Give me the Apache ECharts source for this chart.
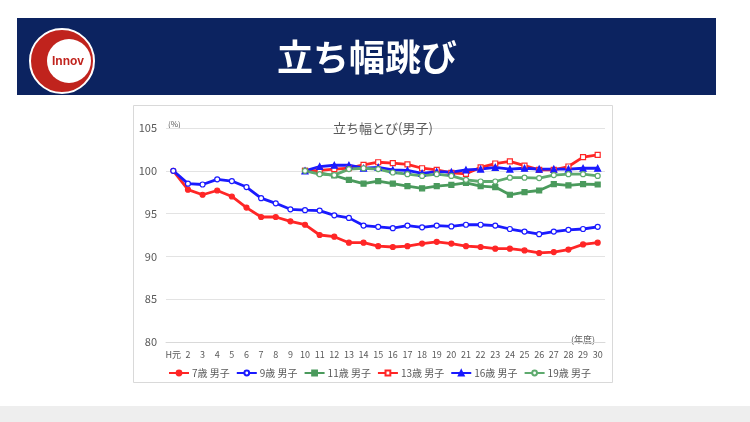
<!DOCTYPE html>
<html>
<head>
<meta charset="utf-8">
<script src="https://cdn.jsdelivr.net/npm/echarts@6/dist/echarts.min.js"></script>
<style>
html,body{margin:0;padding:0;background:#fff;}
#c{width:750px;height:422px;}
</style>
</head>
<body>
<div id="c"></div>
<script>
var categories = ['H元','2','3','4','5','6','7','8','9','10','11','12','13','14','15','16','17','18','19','20','21','22','23','24','25','26','27','28','29','30'];
var yTicks = [80, 85, 90, 95, 100, 105];
// 7歳・9歳: H元〜30
var age7 = [100, 97.8, 97.2, 97.7, 97.0, 95.7, 94.6, 94.6, 94.1, 93.7, 92.5, 92.3, 91.6, 91.6, 91.2, 91.1, 91.2, 91.5, 91.7, 91.5, 91.2, 91.1, 90.9, 90.9, 90.7, 90.4, 90.5, 90.8, 91.4, 91.6];
var age9 = [100, 98.5, 98.4, 99.0, 98.8, 98.1, 96.8, 96.2, 95.5, 95.4, 95.35, 94.8, 94.5, 93.6, 93.45, 93.3, 93.6, 93.4, 93.6, 93.5, 93.7, 93.7, 93.6, 93.2, 92.9, 92.6, 92.9, 93.1, 93.2, 93.45];
// 11歳・13歳・16歳・19歳: 10〜30
var age11 = [100, 99.75, 99.45, 98.95, 98.5, 98.8, 98.5, 98.2, 97.95, 98.2, 98.35, 98.6, 98.2, 98.1, 97.2, 97.5, 97.7, 98.45, 98.3, 98.45, 98.4];
var age13 = [100, 100.05, 100.2, 100.3, 100.7, 101.0, 100.9, 100.75, 100.3, 100.1, 99.75, 99.65, 100.4, 100.85, 101.1, 100.6, 100.1, 100.1, 100.5, 101.6, 101.85];
var age16 = [100, 100.5, 100.65, 100.65, 100.3, 100.4, 100.1, 100.05, 99.7, 99.9, 99.85, 100.1, 100.2, 100.4, 100.2, 100.3, 100.2, 100.2, 100.2, 100.3, 100.3];
var age19 = [100, 99.6, 99.5, 100.2, 100.3, 100.2, 99.8, 99.6, 99.4, 99.6, 99.4, 98.95, 98.75, 98.75, 99.2, 99.2, 99.15, 99.5, 99.6, 99.6, 99.4];

function pad(arr){
  var out = [];
  for (var i = 0; i < categories.length - arr.length; i++) out.push(null);
  return out.concat(arr);
}

var FONT = '"Noto Sans CJK JP", "Noto Sans", sans-serif';
var RED = '#ff2626', BLUE = '#1a1aff', GREEN1 = '#4a9a5c', GREEN2 = '#5eaa6e';

function mk(name, data, color, symbol, filled){
  return {
    name: name, type: 'line', data: data,
    symbol: symbol, symbolSize: symbol === 'triangle' ? 6 : 5,
    showSymbol: true, connectNulls: false,
    lineStyle: {color: color, width: 2.8},
    itemStyle: {color: filled ? color : '#ffffff', borderColor: color, borderWidth: 1.2},
    emphasis: {disabled: true},
    z: 3
  };
}

var chart = echarts.init(document.getElementById('c'), null, {renderer: 'canvas'});
chart.setOption({
  animation: false,
  backgroundColor: '#ffffff',
  textStyle: {fontFamily: FONT},
  graphic: [
    {type: 'rect', shape: {x: 0, y: 406, width: 750, height: 16}, style: {fill: '#eeeeee'}, silent: true},
    {type: 'rect', shape: {x: 17, y: 18, width: 699, height: 77}, style: {fill: '#0c2360'}, silent: true},
    {type: 'circle', shape: {cx: 62, cy: 61, r: 32}, style: {fill: '#c0231d', stroke: '#ffffff', lineWidth: 2}, silent: true},
    {type: 'circle', shape: {cx: 69, cy: 61, r: 22}, style: {fill: '#ffffff'}, silent: true},
    {type: 'text', style: {text: 'Innov', x: 68, y: 62, fill: '#c0231d', font: 'bold 12px "Liberation Sans", sans-serif', textAlign: 'center', textVerticalAlign: 'middle'}, silent: true},
    {type: 'text', style: {text: '立ち幅跳び', x: 367, y: 57, fill: '#ffffff', font: 'bold 36px ' + FONT, textAlign: 'center', textVerticalAlign: 'middle'}, silent: true},
    {type: 'rect', shape: {x: 133.5, y: 105.5, width: 479, height: 277}, style: {fill: 'none', stroke: '#d9d9d9', lineWidth: 1}, silent: true, z: -1},
    {type: 'text', style: {text: '(%)', x: 168, y: 124, fill: '#595959', font: '8px ' + FONT, textVerticalAlign: 'middle'}, silent: true},
    {type: 'text', style: {text: '(年度)', x: 583, y: 340, fill: '#595959', font: '9px ' + FONT, textAlign: 'center', textVerticalAlign: 'middle'}, silent: true}
  ],
  title: {
    text: '立ち幅とび(男子)', left: 378, top: 117, textAlign: 'center',
    textStyle: {fontFamily: FONT, fontSize: 13, fontWeight: 'normal', color: '#595959'}
  },
  grid: {left: 166, right: 145, top: 128, bottom: 80, containLabel: false},
  xAxis: {
    type: 'category', data: categories, boundaryGap: true,
    axisLine: {show: true, lineStyle: {color: '#d9d9d9'}},
    axisTick: {show: false},
    axisLabel: {interval: 0, color: '#595959', fontSize: 9, margin: 8, fontFamily: FONT}
  },
  yAxis: {
    type: 'value', min: yTicks[0], max: yTicks[yTicks.length - 1], interval: 5,
    axisLine: {show: false}, axisTick: {show: false},
    splitLine: {lineStyle: {color: '#e3e3e3', width: 1}},
    axisLabel: {color: '#595959', fontSize: 11, margin: 9, fontFamily: FONT}
  },
  legend: {
    left: 163, top: 363, itemWidth: 20, itemHeight: 6, itemGap: 6,
    textStyle: {fontSize: 10, color: '#595959', fontFamily: FONT, padding: [0, 0, 0, -2]},
    data: ['7歳 男子', '9歳 男子', '11歳 男子', '13歳 男子', '16歳 男子', '19歳 男子']
  },
  series: [
    mk('7歳 男子', age7, RED, 'circle', true),
    mk('9歳 男子', age9, BLUE, 'circle', false),
    mk('11歳 男子', pad(age11), GREEN1, 'rect', true),
    mk('13歳 男子', pad(age13), RED, 'rect', false),
    mk('16歳 男子', pad(age16), BLUE, 'triangle', true),
    mk('19歳 男子', pad(age19), GREEN2, 'circle', false)
  ]
});
</script>
</body>
</html>
